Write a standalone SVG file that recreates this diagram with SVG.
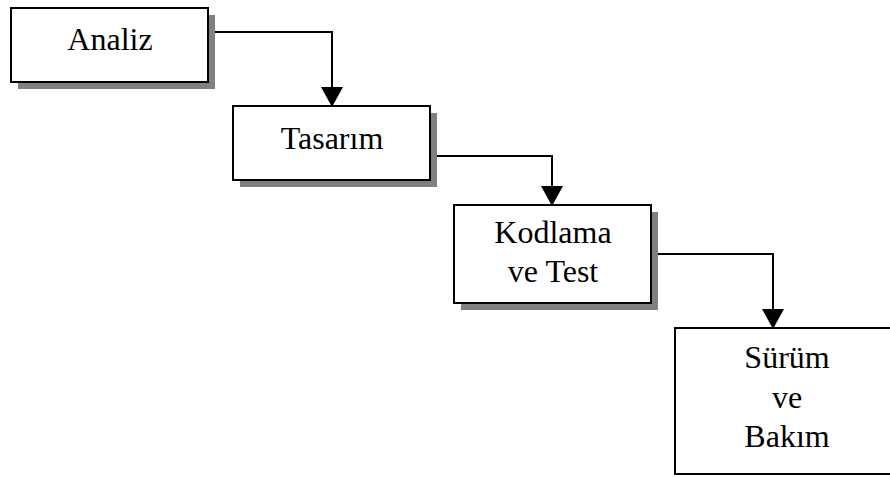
<svg xmlns="http://www.w3.org/2000/svg" width="890" height="477" viewBox="0 0 890 477">
<style>
.box{fill:#fff;stroke:#000;stroke-width:2}
.shadow{fill:#808080}
.lbl{font-family:"Liberation Serif","Times New Roman",serif;font-size:32px;fill:#000;text-anchor:middle}
.conn{fill:none;stroke:#000;stroke-width:2;marker-end:url(#arr)}
</style>
<defs>
<marker id="arr" viewBox="0 0 20 22" refX="19" refY="11" markerWidth="20" markerHeight="22" markerUnits="userSpaceOnUse" orient="auto">
<path d="M0,0 L20,11 L0,22 Z" fill="#000"/>
</marker>
</defs>
<rect width="890" height="477" fill="#fff"/>
<g id="connectors">
<path class="conn" d="M208,32 H332 V106"/>
<path class="conn" d="M430,156 H552 V205"/>
<path class="conn" d="M651,254 H773 V328"/>
</g>
<g id="analiz">
<rect class="shadow" x="18" y="15" width="197" height="74"/>
<rect class="box" x="11" y="8" width="197" height="74"/>
<text class="lbl" x="110" y="50">Analiz</text>
</g>
<g id="tasarim">
<rect class="shadow" x="240" y="113" width="197" height="74"/>
<rect class="box" x="233" y="106" width="197" height="74"/>
<text class="lbl" x="332" y="149">Tasarım</text>
</g>
<g id="kodlama">
<rect class="shadow" x="461" y="212" width="197" height="98"/>
<rect class="box" x="454" y="205" width="197" height="98"/>
<text class="lbl" x="553" y="243">Kodlama</text>
<text class="lbl" x="553" y="282">ve Test</text>
</g>
<g id="surum">
<rect class="box" x="675" y="328" width="230" height="146"/>
<text class="lbl" x="787" y="368">Sürüm</text>
<text class="lbl" x="787" y="408">ve</text>
<text class="lbl" x="787" y="447">Bakım</text>
</g>
</svg>
